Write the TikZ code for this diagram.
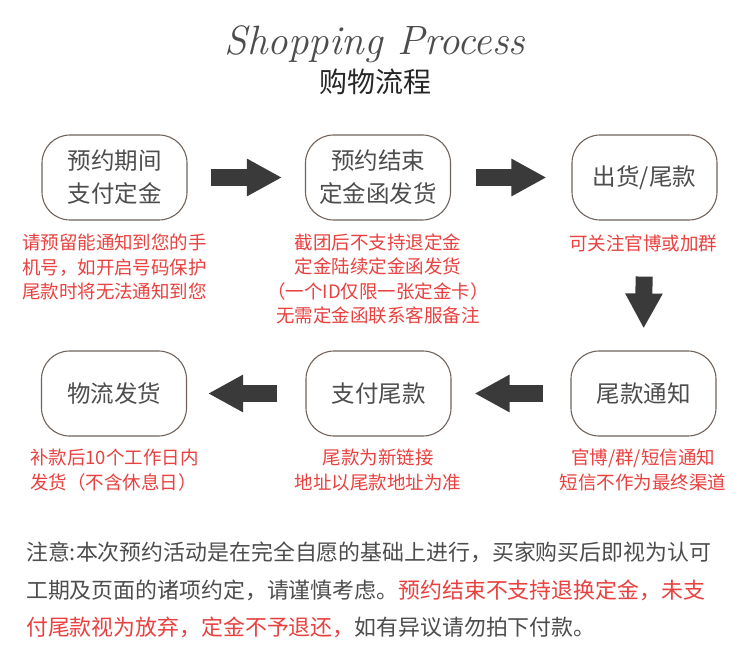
\documentclass[tikz,border=0pt]{standalone}
\usepackage{fontspec}
\newfontfamily\cjk{Noto Sans CJK SC}
\usetikzlibrary{arrows.meta}
\definecolor{txtgray}{HTML}{4D4D4D}
\definecolor{redtxt}{HTML}{E8413F}
\definecolor{boxline}{HTML}{70645C}
\definecolor{arrowc}{HTML}{3A3A3A}
\begin{document}
\begin{tikzpicture}[x=1pt,y=-1pt,
  box/.style={draw=boxline, line width=1.1pt, rounded corners=28pt,
    minimum width=145pt, minimum height=85pt, inner sep=0pt,
    text=txtgray, font=\cjk\fontsize{23.5}{33}\selectfont, align=center},
  note/.style={text=redtxt, font=\cjk\fontsize{18.5}{24.5}\selectfont,
    align=center, inner sep=0pt},
  remark/.style={text=txtgray, font=\cjk\fontsize{21.9}{26}\selectfont,
    anchor=west, inner sep=0pt},
  blockarrow/.style={draw=arrowc, line width=17pt,
    -{Triangle[length=35pt,width=35pt]}},
]
\useasboundingbox (0,0) rectangle (750,663);
\fill[white] (0,0) rectangle (750,663);

% titles
\node[text=txtgray, font=\itshape\fontsize{41}{43}\selectfont, inner sep=0pt]
  (title) at (375,44) {Shopping Process};
\node[text=black!85, font=\cjk\fontsize{28}{30}\selectfont, inner sep=0pt]
  (subtitle) at (375,82) {购物流程};

% boxes
\node[box] (b1) at (114.5,177.5) {预约期间\\支付定金};
\node[box] (b2) at (378,177.5) {预约结束\\定金函发货};
\node[box] (b3) at (644.5,177.5) {出货/尾款};
\node[box] (b4) at (643.5,393.5) {尾款通知};
\node[box] (b5) at (378.5,393.5) {支付尾款};
\node[box] (b6) at (114,393.5) {物流发货};

% red notes
\node[note] (n1) at (114.5,267.3) {请预留能通知到您的手\\机号，如开启号码保护\\尾款时将无法通知到您};
\node[note] (n2) at (378,279) {截团后不支持退定金\\定金陆续定金函发货\\（一个ID仅限一张定金卡）\\无需定金函联系客服备注};
\node[note] (n3) at (643,243) {可关注官博或加群};
\node[note, align=left, anchor=west] (n6) at (30,470) {补款后10个工作日内\\发货（不含休息日）};
\node[note] (n5) at (378,470) {尾款为新链接\\地址以尾款地址为准};
\node[note] (n4) at (643,470) {官博/群/短信通知\\短信不作为最终渠道};

% arrows
\draw[blockarrow, shorten <=23pt, shorten >=23pt] (b1.east) -- (b2.west);
\draw[blockarrow, shorten <=25pt, shorten >=25pt] (b2.east) -- (b3.west);
\draw[blockarrow, shorten <=56pt, shorten >=22pt] (b3.south) -- (b4.north);
\draw[blockarrow, shorten <=27pt, shorten >=23pt] (b4.west) -- (b5.east);
\draw[blockarrow, shorten <=28pt, shorten >=21pt] (b5.west) -- (b6.east);

% remark
\node[remark] (r1) at (26,552) {注意:本次预约活动是在完全自愿的基础上进行，买家购买后即视为认可};
\node[remark] (r2) at (26,590) {工期及页面的诸项约定，请谨慎考虑。{\color{redtxt}预约结束不支持退换定金，未支}};
\node[remark] (r3) at (26,627) {{\color{redtxt}付尾款视为放弃，定金不予退还，}如有异议请勿拍下付款。};
\end{tikzpicture}
\end{document}
